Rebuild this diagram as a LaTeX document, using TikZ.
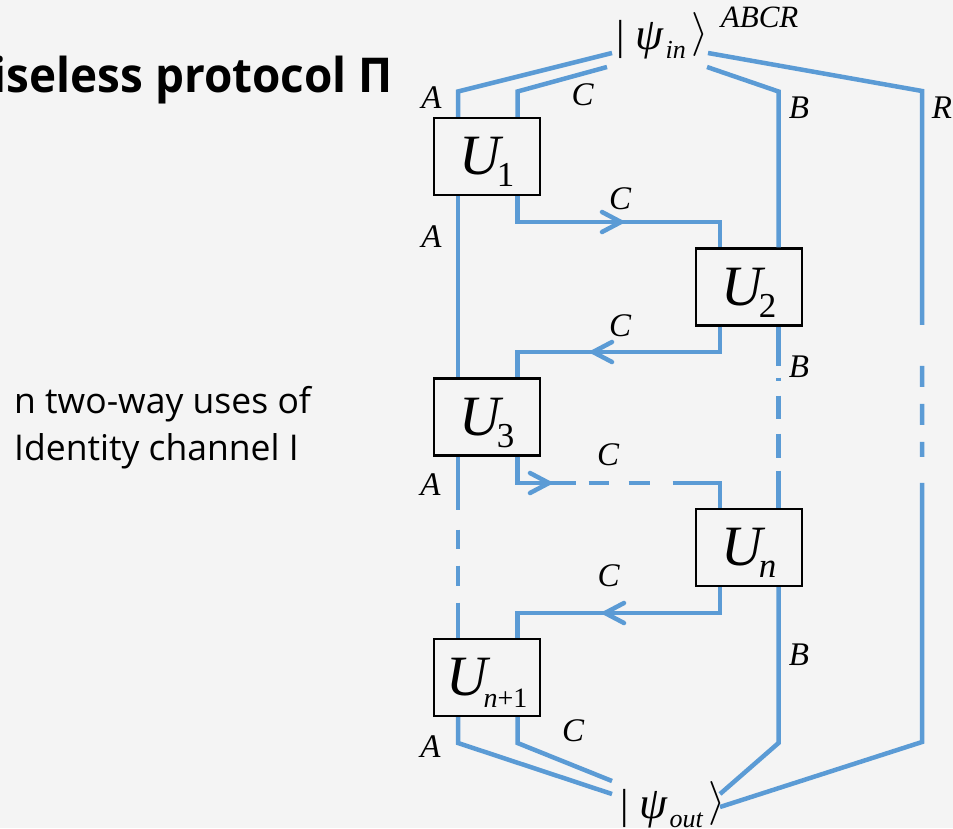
\RequirePackage{fix-cm}
\documentclass[tikz,border=0pt]{standalone}
\usepackage{fontspec}
\setmainfont{Liberation Serif}
\newfontfamily\uisans{Open Sans}
\usetikzlibrary{calc}

\definecolor{wireblue}{RGB}{91,155,213}
\definecolor{paper}{RGB}{244,244,244}

% gate caption: italic U with a lowered index
\newcommand\gatename[3]{%
  {\fontsize{57}{57}\selectfont\itshape U}\kern#3%
  \smash{\raisebox{-12pt}{\fontsize{#2}{#2}\selectfont #1}}}
% ket |psi_sub>
\newcommand\ketpsi[1]{%
  {\fontsize{42}{42}\selectfont |\kern11pt}{\fontsize{45}{45}\selectfont\itshape ψ}\kern2pt%
  \raisebox{-9pt}{\fontsize{26}{26}\selectfont\itshape #1}\kern5.5pt%
  \raisebox{4pt}{\fontsize{44}{44}\selectfont$\rangle$}}

\begin{document}
\begin{tikzpicture}[x=1pt,y=-1pt,
  wire/.style={draw=wireblue,line width=4.5pt},
  chev/.style={draw=wireblue,line width=4.5pt,line cap=round},
  gate/.style={draw=black,line width=2.2pt,fill=paper,minimum width=106pt,
               minimum height=77pt,inner sep=0pt},
  lab/.style={inner sep=0pt,font=\fontsize{33}{33}\selectfont\itshape}]

\fill[paper] (0,0) rectangle (953,828);
\useasboundingbox (0,0) rectangle (953,828);

% side texts
\node[anchor=base east,inner sep=0pt,font=\uisans\bfseries\fontsize{48}{48}\selectfont]
  (title) at (393,92) {\scalebox{0.955}[1]{iseless protocol Π}};
\node[anchor=base west,inner sep=0pt,font=\uisans\fontsize{35.5}{35.5}\selectfont]
  (note1) at (14,413) {n two-way uses of};
\node[anchor=base west,inner sep=0pt,font=\uisans\fontsize{35.5}{35.5}\selectfont]
  (note2) at (14,460) {Identity channel I};

% input and output states
\node[anchor=base west,inner sep=0pt] (kin) at (616,49)
  {\ketpsi{in}\kern12.5pt\raisebox{22pt}{\fontsize{31}{31}\selectfont\itshape ABCR}};
\node[anchor=base west,inner sep=0pt] (kout) at (620,818) {\ketpsi{out}};

% gates
\node[gate] (U1) at (487,156.5) {\gatename{1}{35}{-4pt}};
\node[gate] (U2) at (749,287)   {\gatename{2}{35}{-4pt}};
\node[gate] (U3) at (487,417)   {\gatename{3}{35}{-4pt}};
\node[gate] (Un) at (749,547.5) {\gatename{\itshape n}{35}{-4pt}};
\node[gate] (Um) at (487,677.5) {\gatename{\itshape n\upshape +1}{28}{-4pt}};

% wire ports on the gates
\foreach \g in {U1,U3,Um}{
  \coordinate (a\g n) at ([xshift=-29pt]\g.north);
  \coordinate (a\g s) at ([xshift=-29pt]\g.south);
  \coordinate (c\g n) at ([xshift=30.5pt]\g.north);
  \coordinate (c\g s) at ([xshift=30.5pt]\g.south);
}
\foreach \g in {U2,Un}{
  \coordinate (c\g n) at ([xshift=-29pt]\g.north);
  \coordinate (c\g s) at ([xshift=-29pt]\g.south);
  \coordinate (b\g n) at ([xshift=29.5pt]\g.north);
  \coordinate (b\g s) at ([xshift=29.5pt]\g.south);
}

% wire ends at the states and routing rows
\coordinate (inA) at (612,53);  \coordinate (inC) at (607,67);
\coordinate (inB) at (707,67);  \coordinate (inR) at (708,53);
\coordinate (outA) at (612,794); \coordinate (outC) at (612,781);
\coordinate (outB) at (720,794); \coordinate (outR) at (720,807);
\coordinate (Rtop) at (922,91);  \coordinate (Rbot) at (922,742);
\coordinate (row0) at (0,91.5);  \coordinate (row1) at (0,222);
\coordinate (row2) at (0,352);   \coordinate (row3) at (0,483);
\coordinate (row4) at (0,613);   \coordinate (row5) at (0,743);

% systems leaving the input state
\draw[wire] (inA) -- (aU1n |- row0) -- (aU1n);
\draw[wire] (inC) -- (cU1n |- row0) -- (cU1n);
\draw[wire] (inB) -- (bU2n |- row0) -- (bU2n);
\draw[wire,dash pattern=on 451.3pt off 41pt on 21pt off 17pt on 21pt off 17pt on 15pt off 26pt on 600pt]
  (inR) -- (Rtop) -- (Rbot) -- (outR);

% A and B between gates
\draw[wire] (aU1s) -- (aU3n);
\draw[wire,dash pattern=on 53pt off 20pt on 19pt off 17pt on 20pt off 17pt on 80pt]
  (aU3s) -- (aUmn);
\draw[wire,dash pattern=on 39pt off 12pt on 3pt off 15pt on 23pt off 15pt on 24pt off 13pt on 100pt]
  (bU2s) -- (bUnn);

% C register shuttled between the parties
\draw[wire] (cU1s) -- (cU1s |- row1) -- (cU2n |- row1) -- (cU2n);
\draw[wire] (cU2s) -- (cU2s |- row2) -- (cU3n |- row2) -- (cU3n);
\draw[wire,dash pattern=on 84.5pt off 13pt on 20pt off 20pt on 21pt off 23pt on 200pt]
  (cU3s) -- (cU3s |- row3) -- (cUnn |- row3) -- (cUnn);
\draw[wire] (cUns) -- (cUns |- row4) -- (cUmn |- row4) -- (cUmn);

% direction marks
\coordinate (t1) at (621,222); \coordinate (t2) at (593,352);
\coordinate (t3) at (549,483); \coordinate (t4) at (605,613);
\draw[chev] ($(t1)+(-19,-10)$) -- (t1) -- ($(t1)+(-19,10)$);
\draw[chev] ($(t2)+(19,-10)$) -- (t2) -- ($(t2)+(19,10)$);
\draw[chev] ($(t3)+(-19,-10)$) -- (t3) -- ($(t3)+(-19,10)$);
\draw[chev] ($(t4)+(19,-10)$) -- (t4) -- ($(t4)+(19,10)$);

% systems entering the output state
\draw[wire] (aUms) -- (aUms |- row5) -- (outA);
\draw[wire] (cUms) -- (cUms |- row5) -- (outC);
\draw[wire] (bUns) -- (bUns |- row5) -- (outB);

% system labels
\node[lab] (lA0) at (431.5,97.5) {A};
\node[lab] (lC0) at (582.5,95)   {C};
\node[lab] (lB0) at (799,107.5)  {B};
\node[lab] (lR0) at (942,107.5)  {R};
\node[lab] (lA1) at (431.5,236.5) {A};
\node[lab] (lC1) at (620,198.5)  {C};
\node[lab] (lC2) at (620,325.5)  {C};
\node[lab] (lB1) at (799,366.5)  {B};
\node[lab] (lC3) at (608,455)    {C};
\node[lab] (lA2) at (430.5,484.5) {A};
\node[lab] (lC4) at (608.5,575.5) {C};
\node[lab] (lB2) at (799,654.5)  {B};
\node[lab] (lA3) at (430.5,746.5) {A};
\node[lab] (lC5) at (573,730.5)  {C};
\end{tikzpicture}
\end{document}
